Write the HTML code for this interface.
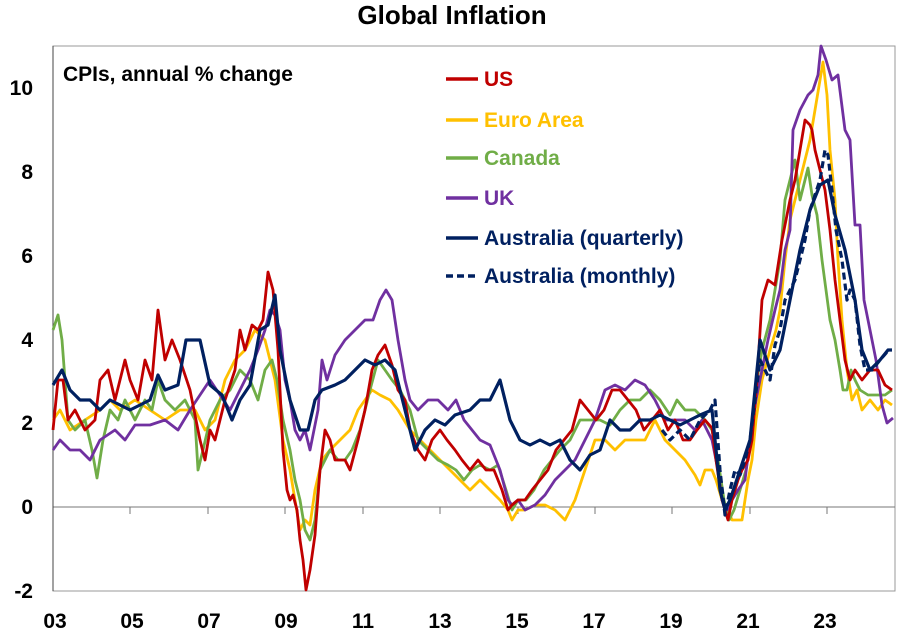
<!DOCTYPE html>
<html><head><meta charset="utf-8"><style>
body{margin:0;background:#fff}
svg{display:block;font-family:"Liberation Sans",sans-serif;font-weight:bold}
</style></head><body>
<svg width="904" height="639" viewBox="0 0 904 639">
<rect x="53" y="46" width="842" height="545" fill="none" stroke="#999" stroke-width="1"/>
<line x1="53" y1="507" x2="895" y2="507" stroke="#777" stroke-width="1"/>
<g stroke="#777">
<line x1="130" y1="507" x2="130" y2="514"/><line x1="208" y1="507" x2="208" y2="514"/><line x1="285" y1="507" x2="285" y2="514"/><line x1="363" y1="507" x2="363" y2="514"/><line x1="440" y1="507" x2="440" y2="514"/><line x1="518" y1="507" x2="518" y2="514"/><line x1="595" y1="507" x2="595" y2="514"/><line x1="672" y1="507" x2="672" y2="514"/><line x1="750" y1="507" x2="750" y2="514"/><line x1="827" y1="507" x2="827" y2="514"/>
</g>
<line x1="53" y1="46" x2="53" y2="591" stroke="#444"/>
<text x="452" y="24" font-size="26" text-anchor="middle">Global Inflation</text>
<g font-size="21" text-anchor="end">
<text x="33" y="95">10</text><text x="33" y="179">8</text><text x="33" y="263">6</text><text x="33" y="347">4</text><text x="33" y="430">2</text><text x="33" y="514">0</text><text x="33" y="598">-2</text>
</g>
<g font-size="21" text-anchor="middle">
<text x="55" y="628">03</text><text x="132" y="628">05</text><text x="209" y="628">07</text><text x="286" y="628">09</text><text x="363" y="628">11</text><text x="440" y="628">13</text><text x="517" y="628">15</text><text x="594" y="628">17</text><text x="671" y="628">19</text><text x="748" y="628">21</text><text x="825" y="628">23</text>
</g>
<text x="63" y="81" font-size="21">CPIs, annual % change</text>
<g fill="none" stroke-width="2.8" stroke-linejoin="round">
<polyline stroke="#ffc000" points="53,420 60,410 70,430 85,420 100,410 110,400 120,410 135,400 150,410 165,420 180,410 195,410 205,430 215,420 225,380 235,360 245,350 255,330 265,340 275,380 283,440 290,470 295,500 300,530 305,520 310,525 315,490 322,460 330,450 340,440 350,430 358,410 365,400 372,390 380,395 390,400 398,410 410,430 420,440 430,450 440,460 450,470 460,480 470,490 480,480 490,490 500,500 508,510 512,520 518,510 525,510 535,505 545,505 555,510 565,520 575,500 585,470 595,440 605,440 615,450 625,440 635,440 645,440 655,420 665,440 675,450 685,460 695,475 700,485 705,470 712,470 716,480 722,500 728,510 732,520 736,520 742,520 748,480 752,460 756,420 762,380 770,350 776,330 780,310 785,260 790,220 795,200 800,180 805,160 810,140 815,110 820,80 823,62 827,95 830,150 835,200 838,260 842,320 847,370 852,400 857,390 862,410 870,400 878,410 885,400 892,405"/>
<polyline stroke="#70ad47" points="53,330 58,315 62,340 68,420 75,430 85,420 92,450 97,478 103,440 110,410 118,420 125,400 135,420 145,400 152,410 158,380 165,400 175,410 185,400 195,420 198,470 203,450 210,420 220,400 230,390 240,370 250,380 258,400 265,370 272,360 277,380 283,420 290,450 295,480 300,500 305,530 310,540 315,520 320,470 330,450 338,460 345,460 352,450 360,430 370,390 378,360 385,370 392,380 400,390 410,410 418,440 428,450 438,460 448,465 456,470 464,480 472,470 480,465 490,470 498,465 506,490 512,510 518,500 526,500 534,490 544,470 552,460 560,450 570,440 580,420 590,420 600,420 610,425 620,410 630,400 640,400 650,390 660,400 670,415 677,400 685,410 695,410 705,420 712,430 718,460 724,500 729,520 734,510 740,490 746,470 752,430 757,380 762,350 770,320 775,290 780,260 785,200 790,180 795,160 800,200 808,168 812,195 817,215 822,260 826,290 830,320 835,340 840,370 843,390 847,390 851,370 855,380 860,390 868,395 876,395 885,395 892,390"/>
<polyline stroke="#7030a0" points="53,450 60,440 70,450 80,450 90,460 100,440 115,430 125,440 135,425 150,425 165,420 178,430 190,410 200,395 210,380 220,395 230,410 240,390 250,370 258,350 265,330 270,310 275,315 280,330 285,380 290,400 295,430 300,440 305,430 310,450 318,410 322,360 327,380 335,355 345,340 355,330 365,320 373,320 380,300 386,290 392,300 398,340 405,380 410,400 418,410 428,400 438,400 448,410 456,400 464,420 472,430 480,440 490,445 500,470 508,500 512,505 518,500 525,510 535,505 545,495 555,480 565,470 575,460 585,440 595,420 605,390 615,385 625,390 635,380 645,385 655,400 665,420 675,420 685,420 695,430 702,420 712,440 718,470 722,500 727,510 732,500 738,490 745,480 750,440 756,400 762,370 768,340 775,310 780,290 785,250 790,230 793,130 800,110 808,95 813,90 818,75 821,46 826,60 832,80 838,75 845,130 850,140 855,225 860,225 864,300 870,330 876,360 882,405 887,423 893,418"/>
<polyline stroke="#c00000" points="53,430 58,380 63,380 68,420 75,410 85,430 95,420 100,380 108,370 115,400 125,360 130,380 138,400 145,360 152,380 158,310 165,360 172,340 180,360 190,390 200,440 205,460 210,430 215,440 225,400 235,370 240,330 245,350 252,325 258,330 263,320 268,272 273,290 278,350 283,450 287,490 290,500 293,495 297,510 300,540 303,560 306,590 310,570 315,535 320,470 325,430 330,440 335,460 345,460 350,470 358,440 365,410 372,370 378,355 385,345 392,365 398,390 405,400 410,430 418,450 425,460 432,440 440,430 447,440 455,450 462,460 470,470 478,460 486,470 494,470 502,490 508,510 512,505 518,500 525,500 532,490 540,480 548,470 556,450 564,440 572,430 580,400 588,410 596,420 604,410 612,390 620,390 628,400 636,410 644,430 652,420 660,410 668,430 675,420 683,440 690,440 697,430 705,420 712,428 716,460 722,500 728,520 732,500 738,480 742,470 748,460 752,440 757,380 762,300 768,280 775,285 782,240 790,200 795,180 800,150 805,120 810,125 812,130 815,150 820,170 825,190 830,230 835,280 840,320 845,360 850,380 855,370 862,380 870,370 878,370 885,385 892,390"/>
<polyline stroke="#002060" stroke-width="3.2" stroke-dasharray="7,4" points="662,430 670,440 680,430 690,440 700,420 710,410 715,400 720,470 725,515 730,490 735,470 740,475 745,460 750,440 755,400 760,360 765,370 770,380 775,345 780,330 785,300 790,290 795,280 800,260 805,240 810,210 815,195 820,180 825,150 828,155 832,190 836,230 842,260 847,300 850,290 855,300 860,345 865,370 872,370 880,360 887,352"/>
<polyline stroke="#002060" stroke-width="3.2" points="53,385 62,370 70,390 80,400 90,400 100,410 110,400 120,405 130,410 140,405 150,400 158,375 165,390 178,385 186,340 200,340 210,385 222,395 232,420 240,400 250,385 260,330 268,325 275,295 280,350 290,400 300,430 308,430 315,400 322,390 335,385 345,380 355,370 365,360 375,365 385,360 395,370 405,410 415,450 425,430 435,420 445,425 455,415 470,410 480,400 490,400 500,380 510,420 520,440 530,445 540,440 550,445 560,440 570,460 580,470 590,455 600,450 610,420 620,430 630,430 640,420 650,420 660,415 670,420 680,425 690,420 700,415 712,410 720,490 725,510 730,500 740,470 750,440 760,340 770,370 780,350 790,300 800,250 810,210 820,185 828,180 835,215 845,250 855,300 862,350 870,370 880,360 888,350 892,350"/>
</g>
<g stroke-width="3.5">
<line x1="446" y1="79" x2="478" y2="79" stroke="#c00000"/>
<line x1="446" y1="120" x2="478" y2="120" stroke="#ffc000"/>
<line x1="446" y1="158" x2="478" y2="158" stroke="#70ad47"/>
<line x1="446" y1="198" x2="478" y2="198" stroke="#7030a0"/>
<line x1="446" y1="238" x2="478" y2="238" stroke="#002060"/>
<line x1="446" y1="276" x2="478" y2="276" stroke="#002060" stroke-dasharray="7,4"/>
</g>
<g font-size="21">
<text x="484" y="86" fill="#c00000">US</text>
<text x="484" y="127" fill="#ffc000">Euro Area</text>
<text x="484" y="165" fill="#70ad47">Canada</text>
<text x="484" y="205" fill="#7030a0">UK</text>
<text x="484" y="245" fill="#002060">Australia (quarterly)</text>
<text x="484" y="283" fill="#002060">Australia (monthly)</text>
</g>
</svg>
</body></html>
